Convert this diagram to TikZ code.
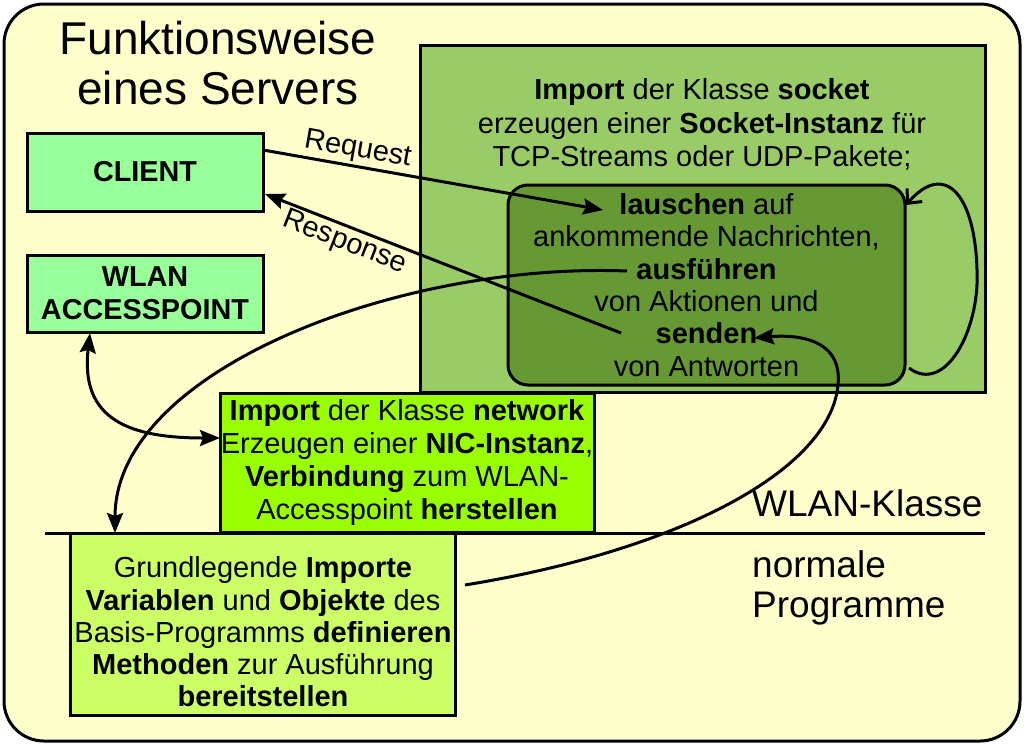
\documentclass[tikz,border=0pt]{standalone}
\usepackage{fontspec}
\setmainfont{Liberation Sans}
\usetikzlibrary{arrows.meta}
\definecolor{bgyellow}{HTML}{FFFFCC}
\definecolor{clientgreen}{HTML}{99FF99}
\definecolor{servergreen}{HTML}{99CC66}
\definecolor{innergreen}{HTML}{669933}
\definecolor{netgreen}{HTML}{99FF00}
\definecolor{basisgreen}{HTML}{CCFF66}
\newcommand\myfs[2]{\fontsize{#1}{#2}\selectfont}
\begin{document}
\begin{tikzpicture}[x=1pt,y=-1pt,
  box/.style={draw=black, line width=3pt, inner sep=0pt, align=center, text=black},
  conn/.style={line width=3pt, -{Stealth[length=20pt,width=16pt,inset=3pt]}},
  biconn/.style={line width=3pt, {Stealth[length=20pt,width=16pt,inset=3pt]}-{Stealth[length=20pt,width=16pt,inset=3pt]}},
  loopconn/.style={line width=3pt, -{Straight Barb[length=11pt,width=20pt]}},
  lbl/.style={font=\myfs{29}{32}, inner sep=2pt}
]
\useasboundingbox (0,0) rectangle (1024,745);

% outer frame
\node[box, fill=bgyellow, rounded corners=40pt, minimum width=1016pt, minimum height=737pt] (frame) at (512,372.5) {};

% server
\node[box, fill=servergreen, minimum width=565pt, minimum height=347pt] (server) at (702.5,218.5) {};
\node[font=\myfs{29}{33.5}, align=center, inner sep=0pt] (servertext) at (702,124.5)
  {\textbf{Import} der Klasse \textbf{socket}\\erzeugen einer \textbf{Socket-Instanz} für\\TCP-Streams oder UDP-Pakete;};
\node[box, fill=innergreen, rounded corners=20pt, minimum width=397pt, minimum height=200pt, font=\myfs{29}{32.4}] (listen) at (706.5,285)
  {\textbf{lauschen} auf\\ankommende Nachrichten,\\\textbf{ausführen}\\von Aktionen und\\\textbf{senden}\\von Antworten};

% divider
\coordinate (divL) at (45,533);
\coordinate (divR) at (985,533);
\draw[line width=3pt] (divL) -- (divR);

% network
\node[box, fill=netgreen, minimum width=374pt, minimum height=139pt, font=\myfs{29}{33}] (network) at (407,462.5)
  {\textbf{Import} der Klasse \textbf{network}\\Erzeugen einer \textbf{NIC-Instanz},\\\textbf{Verbindung} zum WLAN-\\Accesspoint \textbf{herstellen}};

% basis
\node[box, fill=basisgreen, minimum width=385pt, minimum height=182pt] (basis) at (262.5,624) {};
\node[font=\myfs{29}{32.3}, align=center, inner sep=0pt] (basistext) at (263,632)
  {Grundlegende \textbf{Importe}\\\textbf{Variablen} und \textbf{Objekte} des\\Basis-Programms \textbf{definieren}\\\textbf{Methoden} zur Ausführung\\\textbf{bereitstellen}};

% client and wlan
\node[box, fill=clientgreen, minimum width=236pt, minimum height=78pt, font=\bfseries\myfs{28.8}{33}] (client) at (145,172) {CLIENT};
\node[box, fill=clientgreen, minimum width=236pt, minimum height=77pt, font=\bfseries\myfs{28.8}{33}] (wlan) at (145,293.5) {WLAN\\ACCESSPOINT};

% title and labels
\node[font=\myfs{46}{50}, align=center, inner sep=0pt] (title) at (218,63) {Funktionsweise\\eines Servers};
\node[font=\myfs{37}{40}, anchor=west, inner sep=0pt] (wlanklasse) at (752,503) {WLAN-Klasse};
\node[font=\myfs{37}{40}, align=left, anchor=west, inner sep=0pt] (normal) at (752,588) {normale\\Programme};

% connector end points
\coordinate (reqstart) at (263,150);
\coordinate (reqend) at (603,210);
\coordinate (resstart) at (621,333);
\coordinate (resend) at (265,194);
\coordinate (ausfL) at (627,271);
\coordinate (basisin) at (115,533);
\coordinate (wlanout) at (90,333);
\coordinate (netin) at (220,438);
\coordinate (basisout) at (465,585);
\coordinate (sendenin) at (754,338);
\coordinate (loopstart) at (909,368);
\coordinate (loopend) at (906,205);

% connectors
\draw[conn] (reqstart) -- node[lbl, sloped, above, pos=0.27] (reqlabel) {Request} (reqend);
\draw[conn] (resstart) -- node[lbl, sloped, below, pos=0.76] (reslabel) {Response} (resend);
\draw[conn] (ausfL) .. controls (400,262) and (115,370) .. (basisin);
\draw[biconn] (wlanout) .. controls (80,420) and (130,438) .. (netin);
\draw[conn] (basisout) .. controls (680,550) and (830,470) .. (838,385) .. controls (843,335) and (790,335) .. (sendenin);
\draw[loopconn] (loopstart) .. controls (945,395) and (980,330) .. (977,270) .. controls (975,195) and (945,160) .. (loopend);
\end{tikzpicture}
\end{document}
